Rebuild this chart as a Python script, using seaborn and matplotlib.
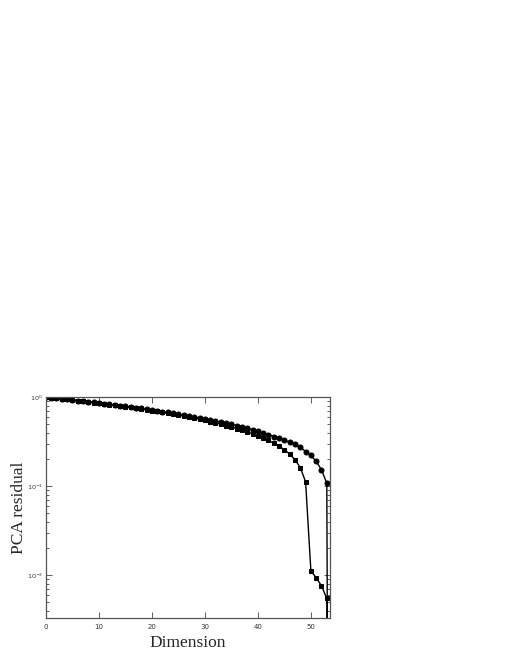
import matplotlib
matplotlib.use("Agg")
import matplotlib.pyplot as plt
from matplotlib.ticker import LogLocator, NullFormatter, NullLocator
import seaborn as sns
import pandas as pd
import numpy as np

dims = list(range(0, 55))

circle_vals = [1.000, 0.986, 0.972, 0.958, 0.944, 0.930, 0.916, 0.902, 0.888, 0.874,
               0.860, 0.846, 0.832, 0.817, 0.803, 0.789, 0.775, 0.761, 0.746, 0.731,
               0.717, 0.702, 0.687, 0.672, 0.657, 0.643, 0.628, 0.613, 0.598, 0.583,
               0.569, 0.554, 0.539, 0.524, 0.509, 0.495, 0.480, 0.464, 0.447, 0.430,
               0.413, 0.396, 0.379, 0.361, 0.346, 0.329, 0.312, 0.294, 0.275, 0.245,
               0.222, 0.190, 0.153, 0.108, 1e-16]

square_vals = [1.000, 0.985, 0.970, 0.956, 0.941, 0.927, 0.912, 0.898, 0.883, 0.869,
               0.854, 0.840, 0.825, 0.811, 0.796, 0.781, 0.767, 0.752, 0.737, 0.722,
               0.706, 0.691, 0.676, 0.660, 0.645, 0.629, 0.613, 0.597, 0.581, 0.565,
               0.548, 0.531, 0.514, 0.497, 0.480, 0.462, 0.444, 0.426, 0.407, 0.388,
               0.368, 0.347, 0.326, 0.304, 0.281, 0.257, 0.230, 0.198, 0.162, 0.112,
               0.0112, 0.0094, 0.0076, 0.0055, 1e-16]

sns.set_style("ticks")
plt.rcParams['font.family'] = ['DejaVu Sans']

df_c = pd.DataFrame({"Dimension": dims, "residual": circle_vals})
df_s = pd.DataFrame({"Dimension": dims, "residual": square_vals})

fig = plt.figure(figsize=(5.1, 6.6), dpi=100)
ax = fig.add_axes([0.090, 0.0636, 0.557, 0.3347])

sns.lineplot(data=df_c, x="Dimension", y="residual", ax=ax, color="black",
             marker="o", markersize=3.6, markeredgecolor="black", linewidth=1.0)
sns.lineplot(data=df_s, x="Dimension", y="residual", ax=ax, color="black",
             marker="s", markersize=3.4, markeredgecolor="black", linewidth=1.0)

ax.set_yscale("log")
ax.set_xlim(0, 53.6)
ax.set_ylim(10 ** -2.48, 1.0)
ax.set_xticks([0, 10, 20, 30, 40, 50])
ax.set_yticks([1e-2, 1e-1, 1e0])
ax.yaxis.set_minor_locator(LogLocator(base=10, subs=np.arange(2, 10), numticks=20))
ax.yaxis.set_minor_formatter(NullFormatter())
ax.xaxis.set_minor_locator(NullLocator())

ax.tick_params(axis="both", which="both", direction="in", top=True, right=True,
               colors="#444444", labelcolor="#333333", width=0.6)
ax.tick_params(axis="x", which="major", pad=4, labelsize=5)
ax.tick_params(axis="y", which="major", pad=2, labelsize=4.6)
ax.tick_params(axis="both", which="major", length=4)
ax.tick_params(axis="y", which="minor", length=2, left=True, right=True)
for s in ax.spines.values():
    s.set_color("#555555")
    s.set_linewidth(0.9)

ax.set_xlabel("Dimension", fontsize=12.5, family=["Liberation Serif"], labelpad=4)
ax.set_ylabel("PCA residual", fontsize=12.5, family=["Liberation Serif"])
ax.yaxis.set_label_coords(-0.067, 0.5)

fig.savefig("out.png", dpi=100)
